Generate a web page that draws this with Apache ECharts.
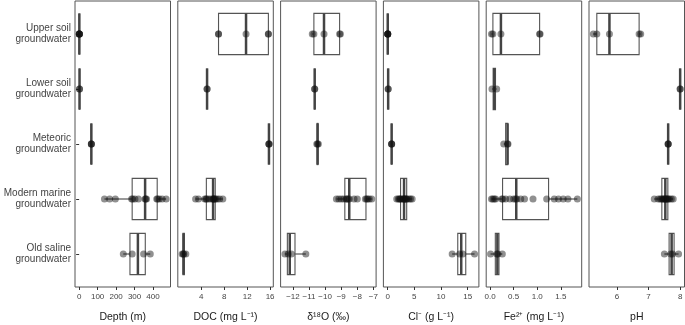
<!DOCTYPE html>
<html>
<head>
<meta charset="utf-8">
<script src="https://cdn.jsdelivr.net/npm/echarts@6/dist/echarts.min.js"></script>
<style>html,body{margin:0;padding:0;background:#fff}#c{width:685px;height:325px}</style>
</head>
<body>
<div id="c"></div>
<script>
// ---- data ----
const categories = ['Upper soil\ngroundwater', 'Lower soil\ngroundwater', 'Meteoric\ngroundwater', 'Modern marine\ngroundwater', 'Old saline\ngroundwater'];
const titles = ['Depth (m)', 'DOC (mg L\u207B\u00B9)', '\u03B4\u00B9\u2078O (\u2030)', 'Cl\u207B (g L\u207B\u00B9)', 'Fe\u00B2\u207A (mg L\u207B\u00B9)', 'pH'];

const depth = [
  [1, 1, 1, 1, 1],
  [2, 2],
  [66, 66, 66],
  [137, 165, 196, 284, 290, 302, 321, 357, 360, 365, 420, 425, 434, 449, 471],
  [239, 287, 349, 385]
];
const doc = [
  [7.0, 7.0, 11.8, 15.7, 15.7],
  [5.0, 5.0],
  [15.8, 15.8, 15.8],
  [3.0, 3.5, 4.6, 4.8, 4.95, 5.3, 5.7, 6.05, 6.1, 6.2, 6.35, 6.5, 6.8, 7.2, 7.75],
  [0.65, 0.85, 0.95, 1.3]
];
const d18o = [
  [-10.8, -10.7, -10.07, -9.1, -9.05],
  [-10.65, -10.65],
  [-10.52, -10.47, -10.42],
  [-9.3, -9.15, -9.0, -8.85, -8.7, -8.65, -8.58, -8.5, -8.2, -8.0, -7.5, -7.42, -7.35, -7.25, -7.1],
  [-12.5, -12.3, -12.1, -11.2]
];
const chloride = [
  [0.02, 0.02, 0.02, 0.02, 0.02],
  [0.1, 0.1],
  [0.75, 0.75, 0.75],
  [1.7, 2.0, 2.2, 2.35, 2.5, 2.8, 3.0, 3.08, 3.2, 3.4, 3.5, 3.65, 4.0, 4.3, 4.6],
  [12.1, 13.5, 14.1, 16.3]
];
const iron = [
  [0.03, 0.06, 0.23, 1.05, 1.06],
  [0.04, 0.14],
  [0.29, 0.37, 0.38],
  [0.03, 0.06, 0.09, 0.12, 0.25, 0.27, 0.33, 0.42, 0.5, 0.54, 0.57, 0.65, 0.73, 0.91, 1.2, 1.36, 1.45, 1.55, 1.65, 1.85],
  [0.01, 0.145, 0.165, 0.26]
];
const ph = [
  [5.25, 5.36, 5.76, 6.70, 6.75],
  [8.0, 8.0],
  [7.62, 7.62, 7.62],
  [7.18, 7.3, 7.36, 7.4, 7.44, 7.47, 7.5, 7.53, 7.55, 7.57, 7.6, 7.62, 7.66, 7.72, 7.78],
  [7.5, 7.7, 7.76, 7.95]
];

const depthTicks = [0, 100, 200, 300, 400];
const docTicks = [4, 8, 12, 16];
const d18oTicks = [-12, -11, -10, -9, -8, -7];
const chlorideTicks = [0, 5, 10, 15];
const ironTicks = [0, 0.5, 1.0, 1.5];
const phTicks = [6, 7, 8];

// ---- build ----
const panels = [depth, doc, d18o, chloride, iron, ph];
const ticks = [depthTicks, docTicks, d18oTicks, chlorideTicks, ironTicks, phTicks];
const labelFmt = [
  v => String(v), v => String(v), v => String(v).replace('-', '\u2212'),
  v => String(v), v => v.toFixed(1), v => String(v)
];
const FONT = 'Liberation Sans, Arial, Helvetica, sans-serif';

function quant(s, p) {
  const h = (s.length - 1) * p, lo = Math.floor(h);
  const hiV = lo + 1 < s.length ? s[lo + 1] : s[lo];
  return s[lo] + (h - lo) * (hiV - s[lo]);
}
function stats(arr) {
  const s = arr.slice().sort((a, b) => a - b);
  const q1 = quant(s, 0.25), med = quant(s, 0.5), q3 = quant(s, 0.75);
  const iqr = q3 - q1;
  const lo = s.filter(v => v >= q1 - 1.5 * iqr)[0];
  const inr = s.filter(v => v <= q3 + 1.5 * iqr);
  const hi = inr[inr.length - 1];
  return [q1, med, q3, Math.min(lo, q1), Math.max(hi, q3)];
}

const grids = [], xAxes = [], yAxes = [], series = [];
panels.forEach((groups, i) => {
  const all = [].concat(...groups);
  const mn = Math.min(...all), mx = Math.max(...all), r = mx - mn;
  grids.push({ left: 75 + i * 102.8, top: 1, width: 95.5, height: 286, show: true,
    outerBoundsMode: 'none', containLabel: false,
    borderColor: '#555', borderWidth: 1, backgroundColor: 'transparent' });
  xAxes.push({
    type: 'value', gridIndex: i, min: mn - 0.05 * r, max: mx + 0.05 * r,
    name: titles[i], nameLocation: 'middle', nameGap: 25,
    nameTextStyle: { fontSize: 10.5, color: '#1a1a1a', fontFamily: FONT },
    axisLine: { show: false }, splitLine: { show: false },
    axisTick: { show: true, length: 3, lineStyle: { color: '#333', width: 1 }, customValues: ticks[i] },
    axisLabel: { customValues: ticks[i], fontSize: 8, color: '#444', margin: 6, fontFamily: FONT, formatter: labelFmt[i] }
  });
  yAxes.push({
    type: 'value', gridIndex: i, min: 0.4, max: 5.6, inverse: true,
    axisLine: { show: false }, splitLine: { show: false },
    axisTick: { show: i === 0, length: 3, lineStyle: { color: '#333', width: 1 }, customValues: [1, 2, 3, 4, 5] },
    axisLabel: { show: i === 0, customValues: [1, 2, 3, 4, 5], fontSize: 10, lineHeight: 11, color: '#444',
      margin: 4, fontFamily: FONT, formatter: v => categories[Math.round(v) - 1] || '' }
  });
  const boxData = groups.map((g, k) => [k + 1].concat(stats(g)));
  series.push({
    type: 'custom', xAxisIndex: i, yAxisIndex: i, data: boxData, silent: true,
    encode: { x: [1, 2, 3, 4, 5], y: 0 },
    renderItem: function (params, api) {
      const c = api.value(0);
      const q1 = api.value(1), med = api.value(2), q3 = api.value(3), lo = api.value(4), hi = api.value(5);
      const hw = api.size([0, 0.375])[1];
      const p1 = api.coord([q1, c]), p3 = api.coord([q3, c]), pm = api.coord([med, c]);
      const pl = api.coord([lo, c]), ph2 = api.coord([hi, c]);
      return { type: 'group', children: [
        { type: 'line', shape: { x1: pl[0], y1: pl[1], x2: p1[0], y2: p1[1] }, style: { stroke: '#333', lineWidth: 1 } },
        { type: 'line', shape: { x1: p3[0], y1: p3[1], x2: ph2[0], y2: ph2[1] }, style: { stroke: '#333', lineWidth: 1 } },
        { type: 'rect', shape: { x: p1[0], y: p1[1] - hw, width: p3[0] - p1[0], height: 2 * hw },
          style: { fill: '#fff', stroke: '#555', lineWidth: 1.1 } },
        { type: 'line', shape: { x1: pm[0], y1: pm[1] - hw, x2: pm[0], y2: pm[1] + hw }, style: { stroke: '#444', lineWidth: 2.5 } }
      ] };
    }
  });
  const pts = [];
  groups.forEach((g, k) => g.forEach(v => pts.push([v, k + 1])));
  series.push({
    type: 'scatter', xAxisIndex: i, yAxisIndex: i, data: pts, symbolSize: 7, silent: true,
    itemStyle: { color: 'rgba(15,15,15,0.58)' }
  });
});

const chart = echarts.init(document.getElementById('c'), null, { renderer: 'canvas' });
chart.setOption({ animation: false, grid: grids, xAxis: xAxes, yAxis: yAxes, series: series });
</script>
</body>
</html>
